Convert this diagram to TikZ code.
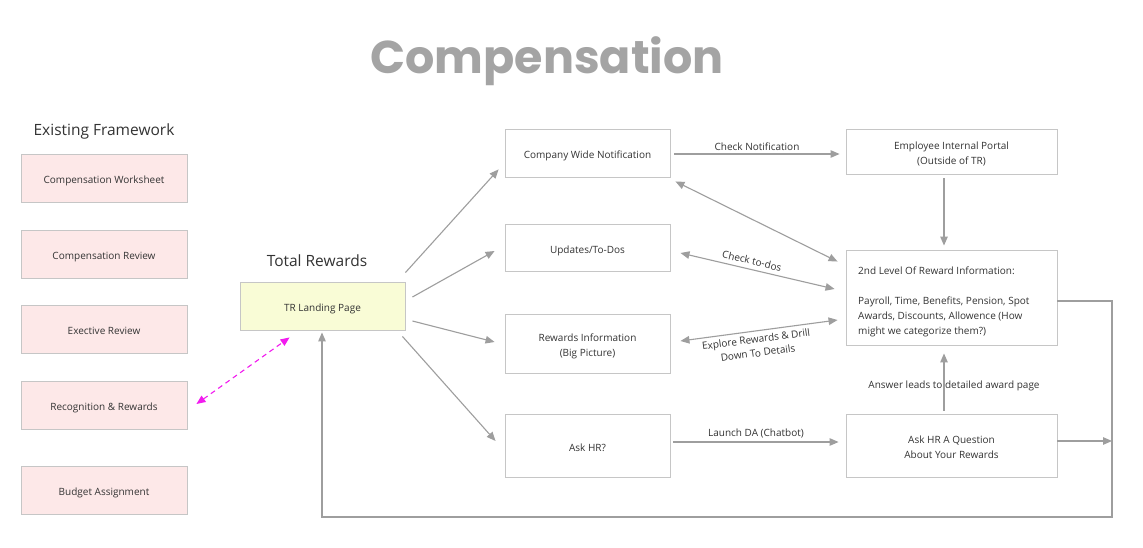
\documentclass[tikz,border=0pt]{standalone}
\usepackage{fontspec}
\setmainfont{Open Sans}
\newfontfamily\titlefont{Poppins}
\usetikzlibrary{arrows.meta,calc}
\definecolor{txt}{HTML}{333333}
\definecolor{bord}{HTML}{C6C6C6}
\definecolor{arr}{HTML}{9E9E9E}
\definecolor{pinkfill}{HTML}{FDE8E8}
\definecolor{yelfill}{HTML}{F9FCD6}
\definecolor{magen}{HTML}{F21BEF}
\definecolor{ttl}{HTML}{A4A4A4}
\newcommand\bxt[1]{\raisebox{-2.5pt}[\height][\depth]{\begin{tabular}{@{}c@{}}#1\end{tabular}}}
\tikzset{
  box/.style={draw=bord, line width=0.9pt, fill=white, inner sep=2pt, text=txt, align=center,
    font=\fontsize{10}{15}\selectfont},
  oldbox/.style={box, fill=pinkfill, minimum width=166pt, minimum height=48pt},
  conn/.style={draw=arr, line width=1.1pt, -{Triangle[length=9pt,width=7.5pt]}},
  dconn/.style={draw=arr, line width=1.1pt, {Triangle[length=9pt,width=7.5pt]}-{Triangle[length=9pt,width=7.5pt]}},
  lbl/.style={text=txt, font=\fontsize{10}{12}\selectfont, inner sep=1pt, align=center},
  head/.style={text=txt, font=\fontsize{15.5}{18}\selectfont},
}
\begin{document}
\begin{tikzpicture}[x=1pt,y=-1pt]
\useasboundingbox (0,0) rectangle (1143,548);
\fill[white] (0,0) rectangle (1143,548);

\node[anchor=base, text=ttl, font=\titlefont\bfseries\fontsize{46}{52}\selectfont] (title) at (547,74) {Compensation};

\node[head] (ef) at (104,131) {Existing Framework};
\node[oldbox] (cw) at (104,178) {\bxt{Compensation Worksheet}};
\node[oldbox] (cr) at (104,254) {\bxt{Compensation Review}};
\node[oldbox] (er) at (104,329) {\bxt{Exective Review}};
\node[oldbox] (rr) at (104,405) {\bxt{Recognition \& Rewards}};
\node[oldbox] (ba) at (104,490) {\bxt{Budget Assignment}};

\node[head] (trh) at (317,261) {Total Rewards};
\node[box, fill=yelfill, minimum width=165pt, minimum height=48pt] (tr) at (322.5,306) {\bxt{TR Landing Page}};

\node[box, minimum width=165pt, minimum height=48pt] (cwn) at (587.5,153) {\bxt{Company Wide Notification}};
\node[box, minimum width=165pt, minimum height=47pt] (upd) at (587.5,247.5) {\bxt{Updates/To-Dos}};
\node[box, minimum width=165pt, minimum height=59pt] (rew) at (587.5,343.5) {\bxt{Rewards Information\\(Big Picture)}};
\node[box, minimum width=165pt, minimum height=63pt] (ask) at (587.5,445.5) {\bxt{Ask HR?}};

\node[box, minimum width=211pt, minimum height=45pt] (eip) at (951.5,151.5) {\bxt{Employee Internal Portal\\(Outside of TR)}};
\node[box, minimum width=211pt, minimum height=95pt] (lvl) at (951.5,297.5) {};
\node[text=txt, anchor=north west, align=left, inner sep=0pt, font=\fontsize{10}{15}\selectfont] (lvltxt) at (858,267)
  {2nd Level Of Reward Information:\\[15pt]Payroll, Time, Benefits, Pension, Spot\\Awards, Discounts, Allowence (How\\might we categorize them?)};
\node[box, minimum width=211pt, minimum height=63pt] (ahq) at (951.5,445.5) {\bxt{Ask HR A Question\\About Your Rewards}};

% magenta dashed
\draw[magen, line width=1.1pt, dash pattern=on 5pt off 4pt, {Triangle[length=9pt,width=7.5pt]}-{Triangle[length=9pt,width=7.5pt]}]
  ($(rr.east)+(9,-1)$) -- ($(tr.south west)+(50,7)$);

% from TR
\draw[conn] ($(tr.north east)+(0,-9)$) -- ($(cwn.south west)+(-6,-8)$);
\draw[conn] ($(tr.east)+(7,-9)$) -- ($(upd.west)+(-10,3.5)$);
\draw[conn] ($(tr.east)+(7,15)$) -- ($(rew.west)+(-10,-1.5)$);
\draw[conn] ($(tr.south east)+(-3,6)$) -- ($(ask.west)+(-9,-4.5)$);

% top row
\draw[conn] ($(cwn.east)+(4,1)$) -- node[lbl, above=2pt] (l1) {Check Notification} ($(eip.west)+(-6,2.5)$);
\draw[conn] ($(eip.south)+(-7.5,4)$) -- ($(lvl.north)+(-7.5,-4)$);

\draw[dconn] ($(cwn.south east)+(5,4)$) -- ($(lvl.north west)+(-8,12)$);
\draw[dconn] ($(upd.east)+(10,5.5)$) -- ($(lvl.west)+(-11,-8.5)$);
\node[lbl, rotate=-13] (l2) at (752,261) {Check to-dos};
\draw[dconn] ($(rew.east)+(10,-2.5)$) -- ($(lvl.west)+(-8,22.5)$);
\node[lbl, rotate=7.5, font=\fontsize{10}{14}\selectfont] (l3) at (757,346) {Explore Rewards \& Drill\\Down To Details};

\draw[conn] ($(ask.east)+(3,-3.5)$) -- node[lbl, above=2pt] (l4) {Launch DA (Chatbot)} ($(ahq.west)+(-7,-3.5)$);
\draw[conn] ($(ahq.north)+(-7.5,-3)$) -- ($(lvl.south)+(-7.5,8)$);
\node[lbl, fill=none] (l5) at (954,386) {Answer leads to detailed award page};

\coordinate (rt) at (1112,441);
\draw[conn] ($(ahq.east)+(0,-4.5)$) -- (rt);
\draw[conn] ($(lvl.east)+(0,3.5)$) -- (1112,301) -- (1112,517) -- (322,517) -- ($(tr.south)+(-0.5,2)$);
\end{tikzpicture}
\end{document}
